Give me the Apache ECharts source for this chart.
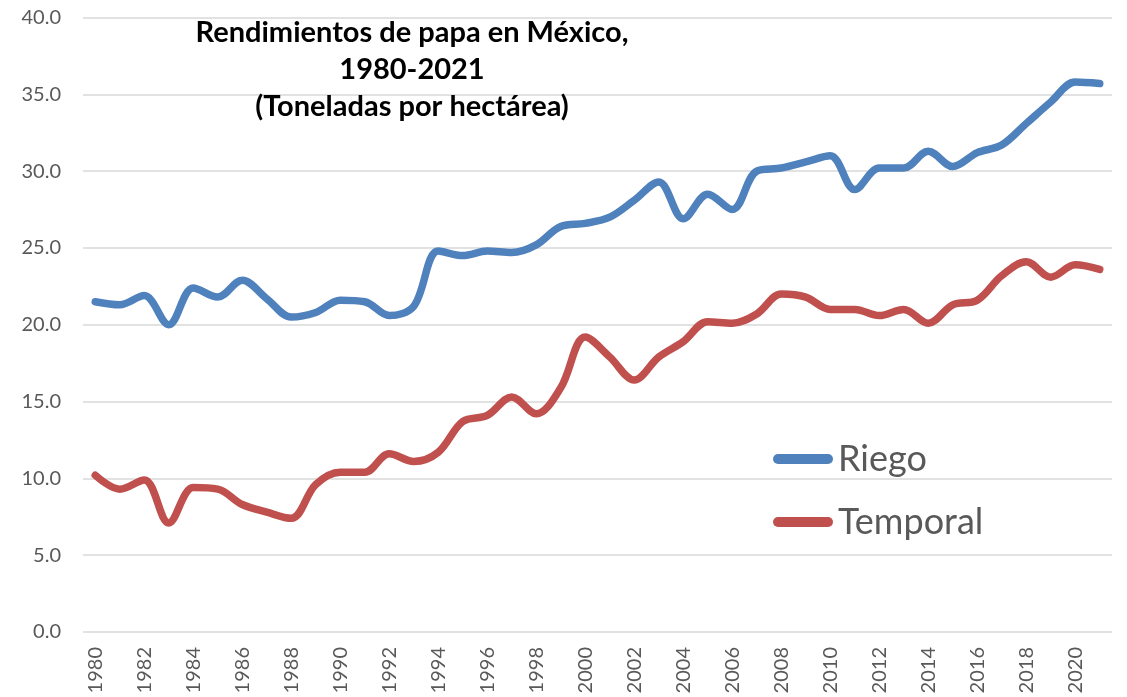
<!DOCTYPE html>
<html>
<head>
<meta charset="utf-8">
<script src="https://cdn.jsdelivr.net/npm/echarts@6/dist/echarts.min.js"></script>
<style>
html,body{margin:0;padding:0;background:#fff;}
#chart{width:1127px;height:697px;}
</style>
</head>
<body>
<div id="chart"></div>
<script>
const years = [];
for (let y = 1980; y <= 2021; y++) years.push(String(y));

const riego = [21.5, 21.3, 21.9, 20.0, 22.4, 21.8, 22.9, 21.7, 20.5, 20.8, 21.6, 21.5,
  20.6, 21.2, 24.8, 24.5, 24.8, 24.7, 25.2, 26.4, 26.6, 27.0, 28.1, 29.3, 26.9, 28.5,
  27.5, 30.0, 30.2, 30.6, 31.0, 28.8, 30.2, 30.2, 31.3, 30.3, 31.2, 31.7, 33.1, 34.5,
  35.8, 35.7];

const temporal = [10.2, 9.3, 9.9, 7.1, 9.4, 9.3, 8.3, 7.8, 7.4, 9.6, 10.4, 10.4,
  11.6, 11.1, 11.7, 13.7, 14.1, 15.3, 14.2, 15.9, 19.2, 17.9, 16.4, 17.9, 18.9, 20.2,
  20.1, 20.7, 22.0, 21.8, 21.0, 21.0, 20.6, 21.0, 20.1, 21.3, 21.6, 23.2, 24.1, 23.1,
  23.9, 23.6];

const seriesNames = ['Riego', 'Temporal'];
const titleLines = ['Rendimientos de papa en México,', '1980-2021', '(Toneladas por hectárea)'];

const chart = echarts.init(document.getElementById('chart'));
const legendIcon = 'path://M5,0 L55,0 A5,5 0 0 1 55,10 L5,10 A5,5 0 0 1 5,0 Z';

chart.setOption({
  animation: false,
  backgroundColor: '#ffffff',
  color: ['#4f81bd', '#c0504d'],
  graphic: [{
    type: 'text',
    x: 412,
    y: 14.5,
    z: 100,
    style: {
      text: titleLines.join('\n'),
      font: 'bold 29px Lato',
      fill: '#000000',
      textAlign: 'center',
      textVerticalAlign: 'top',
      lineHeight: 37
    }
  }],
  legend: {
    orient: 'vertical',
    left: 768,
    top: 434,
    itemWidth: 60,
    itemHeight: 10,
    itemGap: 23,
    icon: legendIcon,
    data: seriesNames,
    textStyle: { fontFamily: 'Lato', fontSize: 36, color: '#595959', lineHeight: 40 }
  },
  grid: { left: 83, right: 15, top: 17.5, bottom: 65, containLabel: false },
  xAxis: {
    type: 'category',
    data: years,
    boundaryGap: true,
    axisLine: { show: false },
    axisTick: { show: false },
    axisLabel: {
      rotate: 90,
      interval: 1,
      margin: 15,
      color: '#595959',
      fontFamily: 'Lato',
      fontSize: 20
    }
  },
  yAxis: {
    type: 'value',
    min: 0,
    max: 40,
    interval: 5,
    axisLine: { show: false },
    axisTick: { show: false },
    splitLine: { lineStyle: { color: '#d9d9d9', width: 1.5 } },
    axisLabel: {
      margin: 22,
      color: '#595959',
      fontFamily: 'Lato',
      fontSize: 20,
      formatter: v => v.toFixed(1)
    }
  },
  series: [
    {
      name: seriesNames[0], type: 'line', data: riego, smooth: 0.35,
      symbol: 'none', lineStyle: { width: 7.5, cap: 'round', join: 'round' }
    },
    {
      name: seriesNames[1], type: 'line', data: temporal, smooth: 0.35,
      symbol: 'none', lineStyle: { width: 7.5, cap: 'round', join: 'round' }
    }
  ]
});
</script>
</body>
</html>
